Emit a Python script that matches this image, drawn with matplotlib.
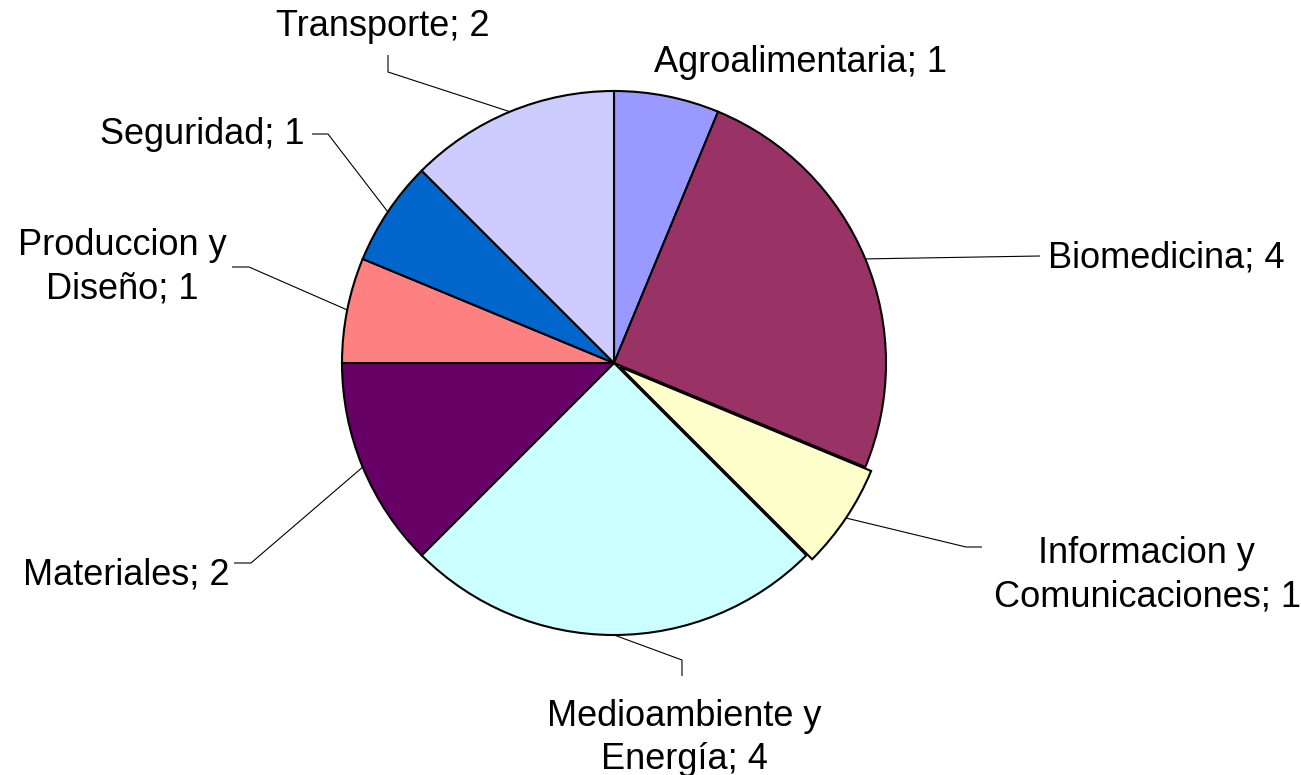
import math

import matplotlib

matplotlib.use("Agg")
import matplotlib.pyplot as plt  # noqa: E402

plt.rcParams["font.family"] = ["Liberation Sans", "DejaVu Sans"]

# Pie data, clockwise from 12 o'clock.
sectors = [
    "Agroalimentaria",
    "Biomedicina",
    "Informacion y\nComunicaciones",
    "Medioambiente y\nEnergía",
    "Materiales",
    "Produccion y\nDiseño",
    "Seguridad",
    "Transporte",
]
counts = [1, 4, 1, 4, 2, 1, 1, 2]
colors = ["#9999FF", "#993366", "#FFFFCC", "#CCFFFF",
          "#660066", "#FF8080", "#0066CC", "#CCCCFF"]
explode = [0, 0, 7, 0, 0, 0, 0, 0]

W, H = 1301, 775
CX, CY, R = 614, 363, 272  # pie centre / radius in pixels (y from top)

# label placement (pixel, y from top) and leader-line bends
label_pos = [(801, 62), (1166, 258), (1147, 575), (684, 738),
             (126, 575), (122, 267), (202, 134), (383, 26)]
leader_bends = [
    [],
    [(1040, 256)],
    [(966, 547), (982, 547)],
    [(682, 660), (682, 676)],
    [(251, 563), (234, 563)],
    [(249, 267), (232, 267)],
    [(328, 134), (312, 134)],
    [(388, 72), (388, 55)],
]


def fy(y):
    return H - y


fig = plt.figure(figsize=(W / 100, H / 100), dpi=100)
ax = fig.add_axes([0, 0, 1, 1])

ax.pie(counts, colors=colors, explode=explode, startangle=90,
       counterclock=False, center=(CX, fy(CY)), radius=R,
       wedgeprops=dict(edgecolor="black", linewidth=1.5))

ax.set_xlim(0, W)
ax.set_ylim(0, H)
ax.axis("off")

total = sum(counts)
cum = 0
for name, n, ex, (lx, ly), bends in zip(sectors, counts, explode,
                                         label_pos, leader_bends):
    theta = math.radians(90 - 360 * (cum + n / 2) / total)
    cum += n
    if bends:
        sx = CX + (R + ex) * math.cos(theta)
        sy = fy(CY) + (R + ex) * math.sin(theta)
        xs = [sx] + [b[0] for b in bends]
        ys = [sy] + [fy(b[1]) for b in bends]
        ax.plot(xs, ys, color="black", linewidth=0.8, solid_capstyle="butt")
    ax.text(lx, fy(ly), f"{name}; {n}", ha="center", va="center",
            fontsize=26, linespacing=1.3, color="black")

fig.savefig("out.png", dpi=100)
